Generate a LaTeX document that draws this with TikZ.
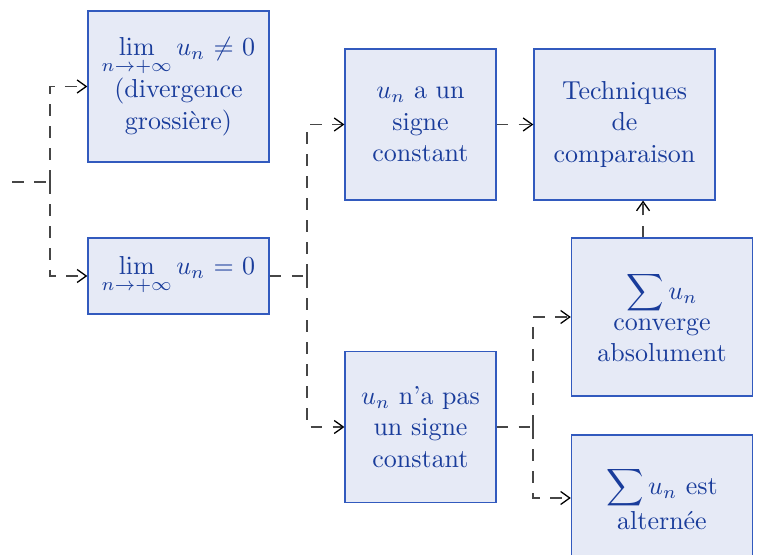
\documentclass[tikz,border=0pt]{standalone}
\usetikzlibrary{arrows.meta,calc}
\definecolor{textcol}{RGB}{25,60,155}
\definecolor{bordercol}{RGB}{50,90,190}
\definecolor{fillcol}{RGB}{230,234,246}
\definecolor{linecol}{RGB}{70,70,70}
\begin{document}
\begin{tikzpicture}[x=0.385pt,y=-0.385pt,
  box/.style={draw=bordercol, fill=fillcol, text=textcol, align=center, inner sep=2pt, line width=0.5pt},
  wide/.style={box, minimum width=69.7pt, text width=65.7pt},
  narrow/.style={box, minimum width=58.1pt, text width=54.1pt},
  conn/.style={draw=linecol, line width=0.5pt, dash pattern=on 4.5pt off 4pt, -{Straight Barb[length=3.5pt,width=5pt,black]}},
  plain/.style={draw=linecol, line width=0.5pt, dash pattern=on 4.5pt off 4pt}]
\useasboundingbox (0,0) rectangle (760,555);
\begin{scope}
\clip (0,0) rectangle (760,555);
\node[wide, minimum height=58.1pt] (A) at (178.5,86.5) {$\lim\limits_{n\to+\infty} u_n \neq 0$\\(divergence\\grossière)};
\node[wide, minimum height=29.3pt] (B) at (178.5,276) {$\lim\limits_{n\to+\infty} u_n = 0$};
\node[narrow, minimum height=58.1pt] (C) at (420.5,124.5) {$u_n$ a un\\signe\\constant};
\node[wide, minimum height=58.1pt] (D) at (624.5,124.5) {Techniques\\de\\comparaison};
\node[wide, minimum height=60.8pt] (E) at (662,317) {$\displaystyle\sum u_n$\\converge\\absolument};
\node[wide, minimum height=60.8pt] (G) at (662,514) {$\displaystyle\sum u_n$ est\\alternée\\\mbox{}};
\coordinate (S) at (12,182);
\coordinate (S1) at (50,182);
\coordinate (K) at (307,276);
\coordinate (M) at (533,427);
\node[narrow, minimum height=58.1pt] (F) at (420.5,427) {$u_n$ n’a pas\\un signe\\constant};
\coordinate (GW) at (571,498);
\draw[plain] (S) -- (S1);
\draw[conn] (S1) |- (A.west);
\draw[conn] (S1) |- (B.west);
\draw[plain] (B.east) -- (K);
\draw[conn] (K) |- (C.west);
\draw[conn] (K) |- (F.west);
\draw[conn] (C.east) -- (D.west);
\draw[plain] (F.east) -- (M);
\draw[conn] (M) |- (E.west);
\draw[conn] (M) |- (G.west |- GW);
\draw[conn] ([xshift=-7.3pt]E.north) -- ([xshift=-7.3pt]E.north |- D.south);
\end{scope}
\end{tikzpicture}
\end{document}
